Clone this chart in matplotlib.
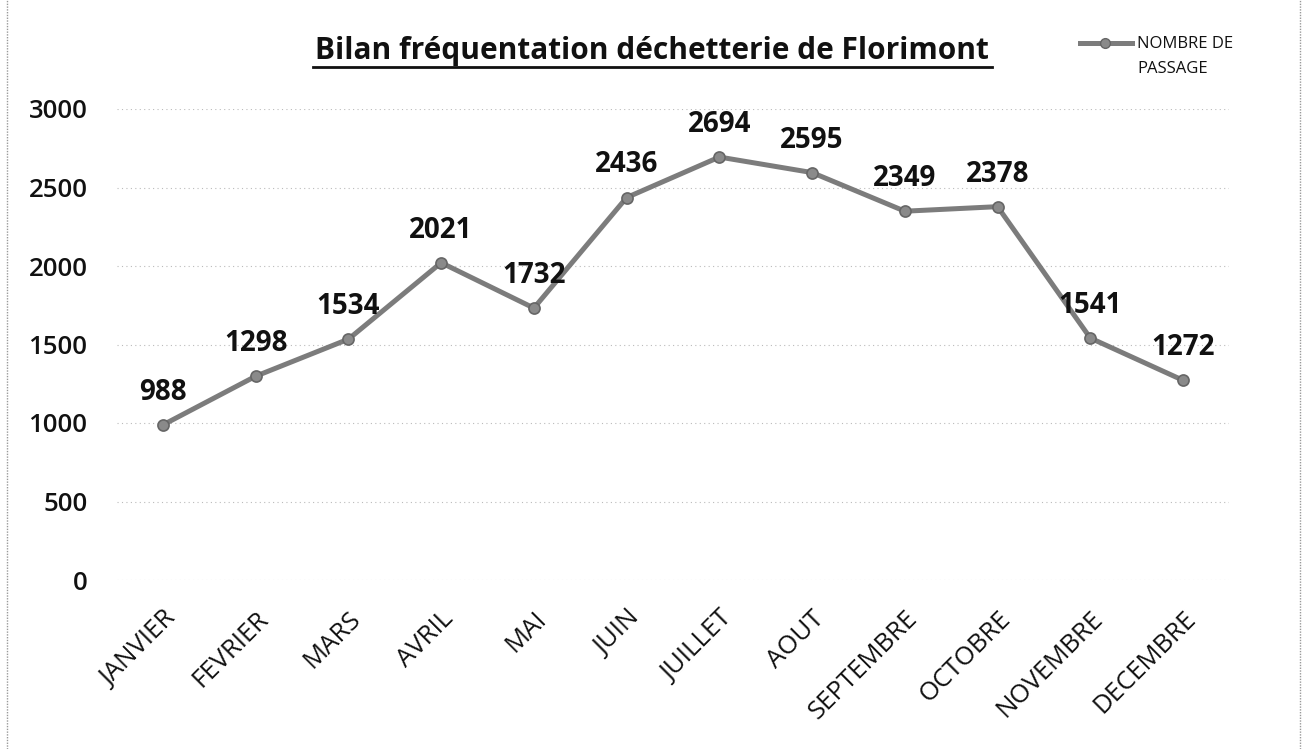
import matplotlib
matplotlib.use("Agg")
import matplotlib.pyplot as plt
from matplotlib.lines import Line2D

months = ["JANVIER", "FEVRIER", "MARS", "AVRIL", "MAI", "JUIN", "JUILLET",
          "AOUT", "SEPTEMBRE", "OCTOBRE", "NOVEMBRE", "DECEMBRE"]
passages = [988, 1298, 1534, 2021, 1732, 2436, 2694, 2595, 2349, 2378, 1541, 1272]
yticks = [0, 500, 1000, 1500, 2000, 2500, 3000]
title = "Bilan fréquentation déchetterie de Florimont"
legend_label = ["NOMBRE DE", "PASSAGE"]

plt.rcParams['font.family'] = ['Open Sans', 'DejaVu Sans']

W, H = 1307, 749
fig = plt.figure(figsize=(W / 100, H / 100), dpi=100)
ax = fig.add_axes([116.6 / W, 1 - 580 / H, (1229.4 - 116.6) / W, (580 - 109) / H])

LINE = "#7c7c7c"
x = list(range(len(months)))
ax.plot(x, passages, color=LINE, lw=3.6, marker="o", ms=8,
        markerfacecolor="#8a8a8a", markeredgecolor="#666666", markeredgewidth=1.2, zorder=3)

for xi, v in zip(x, passages):
    ax.annotate(str(v), (xi, v), xytext=(0, 13), textcoords="offset points",
                ha="center", va="bottom", fontsize=20, fontweight="bold", color="#111111")

ax.set_xlim(-0.5, len(months) - 0.5)
ax.set_ylim(0, 3000)
ax.set_yticks(yticks)
ax.set_yticklabels([str(t) for t in yticks], fontsize=18.5, fontweight="semibold", color="#111111")
ax.set_xticks(x)
ax.set_xticklabels(months, rotation=45, ha="right", va="top", rotation_mode="anchor",
                   fontsize=18.5, color="#111111")
ax.tick_params(axis="y", length=0, pad=21)
ax.tick_params(axis="x", length=0, pad=19)
ax.grid(axis="y", color="#bbbbbb", lw=0.8, ls=(0, (1, 3)))
ax.set_axisbelow(True)
for s in ax.spines.values():
    s.set_visible(False)

fig.text(652 / W, 1 - 59 / H, title, ha="center", va="baseline", fontsize=21.5,
         fontweight="bold", color="#111111")
fig.add_artist(Line2D([313 / W, 992 / W], [1 - 67 / H, 1 - 67 / H], color="#111111", lw=2))

# legend
fig.add_artist(Line2D([1080 / W, 1132 / W], [1 - 43 / H, 1 - 43 / H], color=LINE, lw=3.6))
fig.add_artist(Line2D([1105 / W], [1 - 43 / H], color=LINE, marker="o", ms=7,
                      markerfacecolor="#8a8a8a", markeredgecolor="#666666"))
fig.text(1137 / W, 1 - 44 / H, legend_label[0], ha="left", va="center", fontsize=12, color="#111111")
fig.text(1137 / W, 1 - 69 / H, legend_label[1], ha="left", va="center", fontsize=12, color="#111111")

# border
fig.add_artist(Line2D([7 / W, 7 / W], [0, 1], color="#999999", lw=1, ls=(0, (1, 1))))
fig.add_artist(Line2D([1300 / W, 1300 / W], [0, 1], color="#999999", lw=1, ls=(0, (1, 1))))

fig.savefig("out.png", dpi=100, facecolor="white")
